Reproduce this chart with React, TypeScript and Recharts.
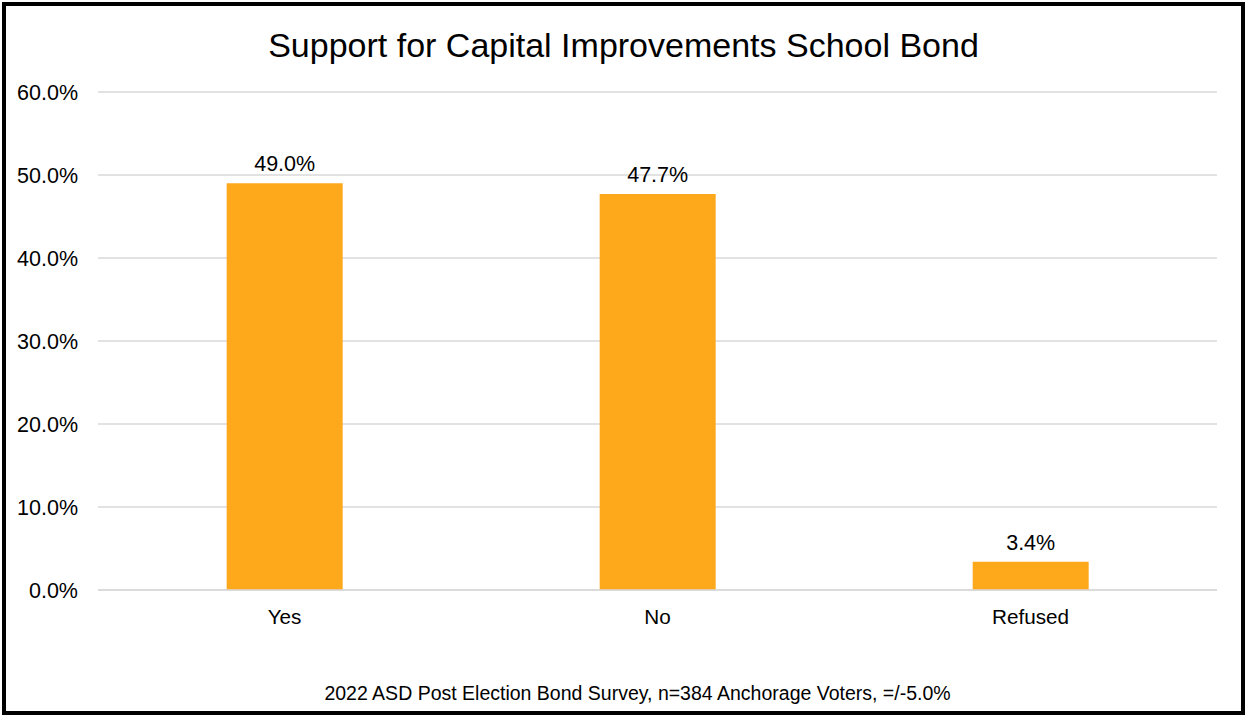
import { BarChart, Bar, CartesianGrid, XAxis, YAxis, LabelList } from 'recharts';

const categories = ['Yes', 'No', 'Refused'];
const support = [49.0, 47.7, 3.4];
const yTicks = [0, 10, 20, 30, 40, 50, 60];

const data = categories.map((name, i) => ({ name, value: support[i] }));

const font = '"Liberation Sans", Arial, Helvetica, sans-serif';
const pct = (v: number) => `${Number(v).toFixed(1)}%`;

export default function App() {
  return (
    <div style={{ position: 'absolute', left: 0, top: 0, width: 1247, height: 717, background: '#fff', fontFamily: font }}>
      <style>{`body{margin:0}`}</style>
      <div
        style={{
          position: 'absolute', left: 2, top: 2, width: 1243, height: 713,
          border: '4px solid #000', boxSizing: 'border-box',
        }}
      />
      <div style={{ position: 'absolute', top: 25, left: 0, width: 1247, textAlign: 'center', fontSize: 34, lineHeight: '40px', color: '#000' }}>
        Support for Capital Improvements School Bond
      </div>
      <BarChart
        width={1247}
        height={717}
        data={data}
        margin={{ top: 92, right: 30, left: 0, bottom: 87 }}
        barCategoryGap="34.5%"
        style={{ position: 'absolute', left: 0, top: 0 }}
      >
        <CartesianGrid vertical={false} stroke="#d9d9d9" strokeWidth={1.5} />
        <XAxis
          dataKey="name"
          height={40}
          axisLine={{ stroke: '#d9d9d9', strokeWidth: 1.5 }}
          tickLine={false}
          tickSize={0}
          tickMargin={19}
          tick={{ fill: '#000', fontSize: 20.7, fontFamily: font }}
        />
        <YAxis
          width={98}
          domain={[0, 60]}
          ticks={yTicks}
          axisLine={false}
          tickLine={false}
          tickSize={0}
          tickMargin={20}
          tickFormatter={pct}
          tick={{ fill: '#000', fontSize: 21.5, fontFamily: font }}
        />
        <Bar dataKey="value" fill="#fea81c" isAnimationActive={false}>
          <LabelList dataKey="value" position="top" offset={12} formatter={(v: any) => pct(v)} style={{ fill: '#000', fontSize: 21.5, fontFamily: font }} />
        </Bar>
      </BarChart>
      <div style={{ position: 'absolute', top: 682, left: 14, width: 1247, textAlign: 'center', fontSize: 19.5, lineHeight: '22px', color: '#000' }}>
        2022 ASD Post Election Bond Survey, n=384 Anchorage Voters, =/-5.0%
      </div>
    </div>
  );
}
